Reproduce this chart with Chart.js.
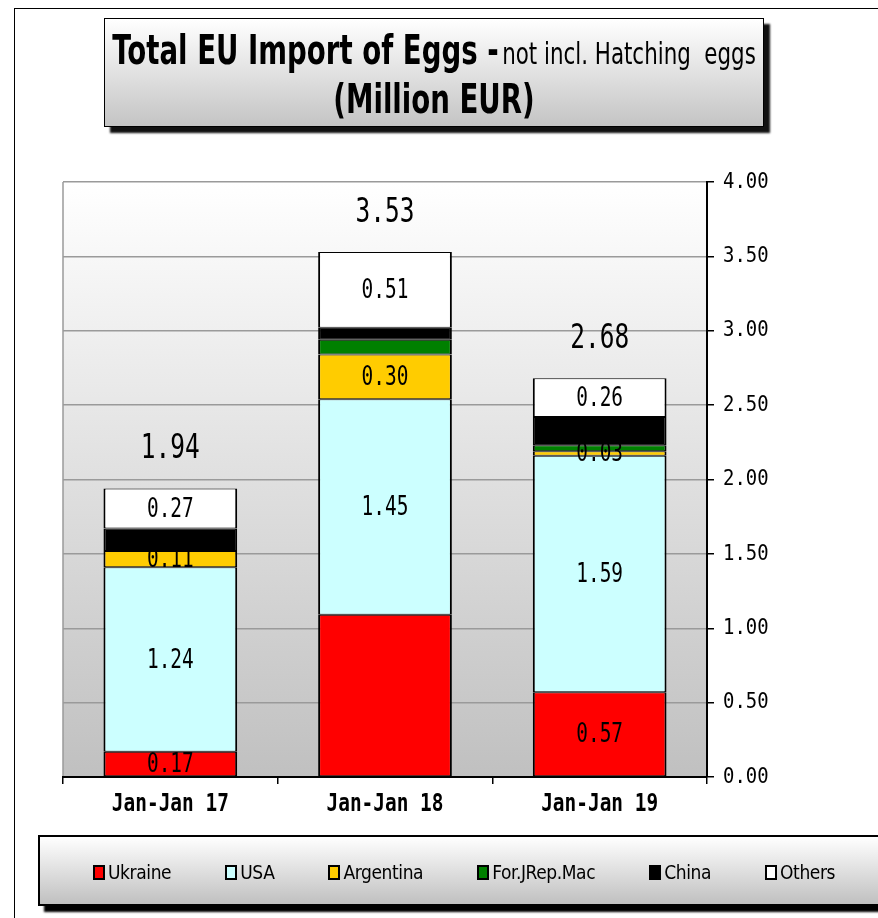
<!DOCTYPE html>
<html>
<head>
<meta charset="utf-8">
<script src="https://cdn.jsdelivr.net/npm/chart.js@4"></script>
<style>
  html, body { margin: 0; padding: 0; background: #fff; }
  body { width: 878px; height: 918px; position: relative; overflow: hidden; font-family: 'DejaVu Sans', sans-serif; }
  #grafico { position: absolute; left: 0; top: 0; }
  #moldura { position: absolute; left: 14px; top: 8px; width: 900px; height: 950px; border-left: 1.5px solid #000; border-top: 1.5px solid #000; }
  #titulo { position: absolute; left: 104px; top: 18px; width: 658px; height: 107px; border: 1.5px solid #000;
    background: linear-gradient(#ffffff, #c4c4c4); box-shadow: 6px 6px 2px #111; }
  #titulo .linha { position: absolute; left: 0; width: 100%; height: 48px; }
  #titulo .linha span.caixa { position: absolute; left: 50%; top: 0; white-space: nowrap; line-height: 48px;
    transform: translateX(-50%) scaleX(0.69); transform-origin: center; }
  #titulo b { font-size: 40px; font-weight: bold; }
  #titulo i { font-style: normal; font-size: 31px; }
  #legenda { position: absolute; left: 38px; top: 835px; width: 900px; height: 67px; border: 2px solid #000;
    background: linear-gradient(#ffffff, #c0c0c0); box-shadow: 6px 6px 2px #000; }
  #itens { position: absolute; left: 53px; top: 24px; display: flex; gap: 54px; align-items: center; }
  .item { display: flex; align-items: center; font-family: 'DejaVu Sans Condensed', 'DejaVu Sans', sans-serif; font-size: 19px; letter-spacing: -0.4px; color: #000; }
  .item .quadrado { width: 8px; height: 11px; border: 2px solid #000; margin-right: 3px; }
</style>
</head>
<body>
<div id="moldura"></div>
<canvas id="grafico" width="878" height="918"></canvas>
<div id="titulo">
  <div class="linha" style="top:7px"><span class="caixa"><b>Total EU Import of Eggs -</b> <i>not incl. Hatching&nbsp; eggs</i></span></div>
  <div class="linha" style="top:56px"><span class="caixa"><b>(Million EUR)</b></span></div>
</div>
<div id="legenda"><div id="itens"></div></div>
<script>
// Dados do gráfico
const categorias = ['Jan-Jan 17', 'Jan-Jan 18', 'Jan-Jan 19'];
const paises = ['Ukraine', 'USA', 'Argentina', 'For.JRep.Mac', 'China', 'Others'];
const ucrania = [0.17, 1.09, 0.57];
const eua = [1.24, 1.45, 1.59];
const argentina = [0.11, 0.30, 0.03];
const macedonia = [0, 0.10, 0.04];
const china = [0.15, 0.08, 0.19];
const outros = [0.27, 0.51, 0.26];
const cores = ['#ff0000', '#ccffff', '#ffcc00', '#008000', '#000000', '#ffffff'];
// quais segmentos levam rótulo (por país, por coluna)
const mostrarRotulo = [
  [true, false, true],
  [true, true, true],
  [true, true, true],
  [false, false, false],
  [false, false, false],
  [true, true, true]
];

const series = [ucrania, eua, argentina, macedonia, china, outros];

// Escreve texto "condensado" (a fonte original é bem estreita)
function escreverTexto(ctx, texto, x, y, fonte, escala, alinhamento) {
  ctx.save();
  ctx.translate(x, y);
  ctx.scale(escala, 1);
  ctx.font = fonte;
  ctx.fillStyle = '#000';
  ctx.textAlign = alinhamento || 'center';
  ctx.textBaseline = 'middle';
  ctx.fillText(texto, 0, 0);
  ctx.restore();
}

// Fundo em degradê da área do gráfico
const fundoPlot = {
  id: 'fundoPlot',
  beforeDraw(chart) {
    const { ctx, chartArea: a } = chart;
    const g = ctx.createLinearGradient(0, a.top, 0, a.bottom);
    g.addColorStop(0, '#ffffff');
    g.addColorStop(1, '#c0c0c0');
    ctx.save();
    ctx.fillStyle = g;
    ctx.fillRect(a.left, a.top, a.right - a.left, a.bottom - a.top);
    ctx.strokeStyle = '#9a9a9a';
    ctx.lineWidth = 1.5;
    ctx.beginPath();
    ctx.moveTo(a.left, a.bottom);
    ctx.lineTo(a.left, a.top);
    ctx.stroke();
    ctx.restore();
  }
};

// Rótulos dos valores, totais e textos dos eixos
const rotulos = {
  id: 'rotulos',
  afterDatasetsDraw(chart) {
    const ctx = chart.ctx;
    const a = chart.chartArea;
    const mono = "'DejaVu Sans Mono', monospace";

    chart.data.datasets.forEach((ds, i) => {
      const meta = chart.getDatasetMeta(i);
      meta.data.forEach((el, j) => {
        if (!mostrarRotulo[i][j]) return;
        const y = (el.y + el.base) / 2;
        escreverTexto(ctx, ds.data[j].toFixed(2), el.x, y + 1, '27px ' + mono, 0.72);
      });
    });

    // totais acima das colunas
    const ultima = chart.getDatasetMeta(series.length - 1);
    categorias.forEach((c, j) => {
      const total = series.reduce((s, serie) => s + serie[j], 0);
      const el = ultima.data[j];
      escreverTexto(ctx, total.toFixed(2), el.x, el.y - 39, '34px ' + mono, 0.72);
    });

    // eixo Y (direita)
    const escalaY = chart.scales.y;
    escalaY.ticks.forEach(t => {
      const y = escalaY.getPixelForValue(t.value);
      escreverTexto(ctx, t.value.toFixed(2), a.right + 16, y, '22px ' + mono, 0.86, 'left');
    });

    // eixo X
    const escalaX = chart.scales.x;
    categorias.forEach((c, j) => {
      const x = escalaX.getPixelForValue(j);
      escreverTexto(ctx, c, x, a.bottom + 28, 'bold 24px ' + mono, 0.81);
    });
  }
};

const ctx = document.getElementById('grafico').getContext('2d');

new Chart(ctx, {
  type: 'bar',
  data: {
    labels: categorias,
    datasets: paises.map((p, i) => ({
      label: p,
      data: series[i],
      backgroundColor: cores[i],
      borderColor: '#000',
      borderWidth: { top: 1, bottom: 1, left: 2, right: 2 },
      borderSkipped: false,
      categoryPercentage: 1,
      barPercentage: 0.623
    }))
  },
  options: {
    responsive: false,
    animation: false,
    devicePixelRatio: 1,
    layout: { padding: { left: 63, top: 182, right: 71, bottom: 81 } },
    plugins: {
      legend: { display: false },
      tooltip: { enabled: false }
    },
    scales: {
      x: {
        stacked: true,
        offset: true,
        grid: { display: true, drawOnChartArea: false, drawTicks: true, tickLength: 7, tickColor: '#000', lineWidth: 1.5 },
        border: { color: '#000', width: 2 },
        ticks: { display: false },
        afterFit(s) { s.height = 60; }
      },
      y: {
        position: 'right',
        stacked: true,
        min: 0,
        max: 4,
        grid: { color: '#9a9a9a', lineWidth: 1.5, tickLength: 7, tickColor: '#000' },
        border: { color: '#000', width: 2 },
        ticks: { display: false, stepSize: 0.5 },
        afterFit(s) { s.width = 100; }
      }
    }
  },
  plugins: [fundoPlot, rotulos]
});

// Legenda montada a partir das séries
const itens = document.getElementById('itens');
paises.forEach((p, i) => {
  const item = document.createElement('div');
  item.className = 'item';
  item.innerHTML = '<span class="quadrado" style="background:' + cores[i] + '"></span>' + p;
  itens.appendChild(item);
});
</script>
</body>
</html>
